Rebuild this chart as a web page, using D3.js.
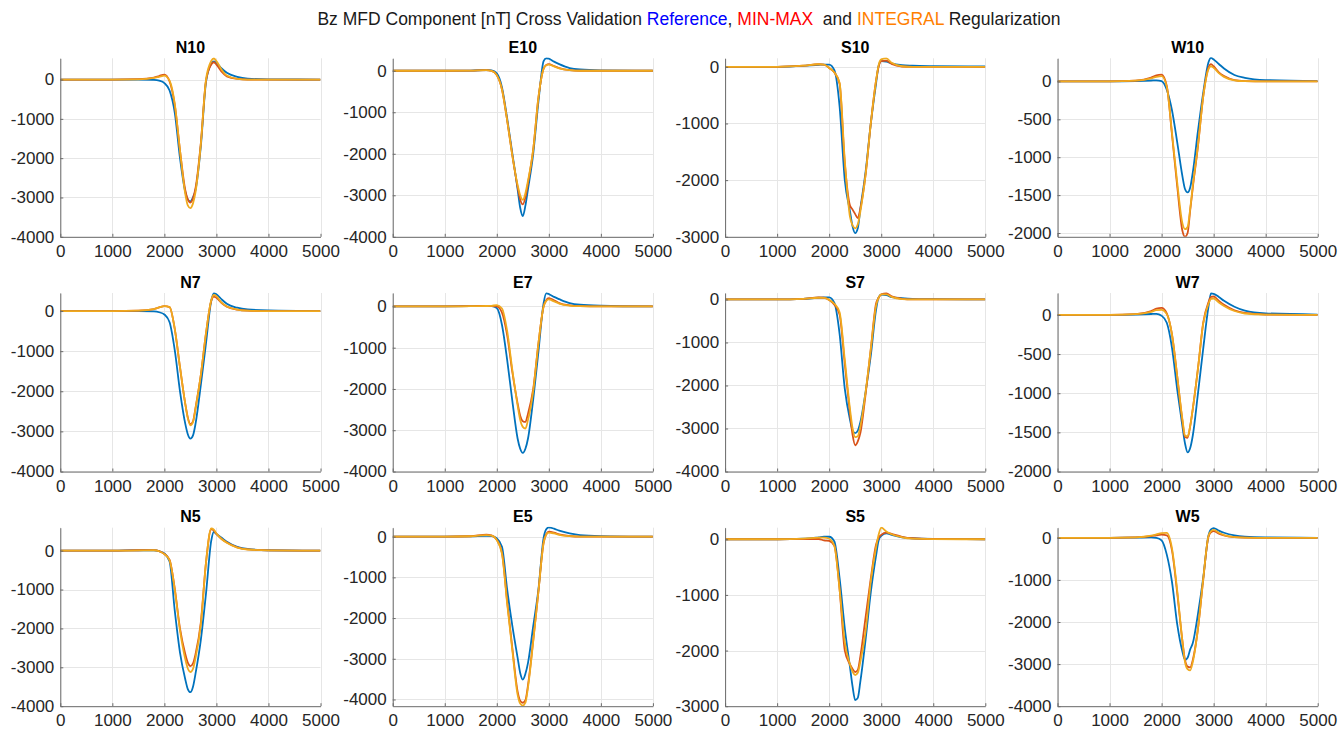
<!DOCTYPE html>
<html>
<head>
<meta charset="utf-8">
<script src="https://cdn.jsdelivr.net/npm/d3@7"></script>
<style>
  html, body { margin: 0; padding: 0; background: #ffffff; }
  svg { display: block; font-family: "Liberation Sans", Arial, Helvetica, sans-serif; }
</style>
</head>
<body>
<svg id="chart" width="1339" height="731"></svg>
<script>
// ---------------- DATA ----------------
const xGrid = [0, 1000, 1500, 1800, 1900, 2000, 2100, 2200, 2300, 2400, 2450, 2500, 2550, 2600, 2700, 2800, 2900, 2950, 3000, 3100, 3200, 3400, 3600, 4000, 5000];
const xTicks = [0, 1000, 2000, 3000, 4000, 5000];
const panelNames = ["N10", "E10", "S10", "W10", "N7", "E7", "S7", "W7", "N5", "E5", "S5", "W5"];
const seriesNames = ["Reference", "MIN-MAX", "INTEGRAL"];
const yLimits = [
  [-4000, 540], [-4000, 300], [-3000, 150], [-2050, 305],
  [-4000, 450], [-4000, 325], [-4000, 150], [-2000, 280],
  [-4000, 590], [-4165, 220], [-3000, 208], [-4000, 240]
];
const yTickStep = [1000, 1000, 1000, 500, 1000, 1000, 1000, 500, 1000, 1000, 1000, 1000];

const refN10 = [0,0,0,-10,-30,-90,-280,-850,-2000,-2850,-3050,-3100,-3000,-2800,-1700,-60,400,460,420,280,170,70,25,5,0];
const minmaxN10 = [0,0,10,50,90,125,-50,-650,-1800,-2800,-3050,-3130,-3020,-2750,-1620,-30,380,440,380,200,80,15,0,0,0];
const integralN10 = [0,0,5,40,70,100,-30,-620,-1800,-2900,-3200,-3270,-3150,-2850,-1650,0,470,535,470,250,100,15,0,0,0];

const refE10 = [0,0,5,20,10,-65,-400,-1150,-2000,-2850,-3300,-3500,-3250,-2850,-2000,-750,230,300,290,220,160,65,30,10,0];
const minmaxE10 = [0,0,5,15,0,-105,-450,-1200,-2050,-2800,-3100,-3220,-3050,-2700,-1900,-650,50,140,160,110,65,15,0,0,0];
const integralE10 = [0,0,5,15,0,-105,-450,-1200,-2050,-2750,-3000,-3110,-2950,-2650,-1900,-650,50,130,150,105,60,15,0,0,0];

const refS10 = [0,0,15,35,40,40,-60,-700,-2000,-2550,-2820,-2935,-2850,-2500,-1850,-1000,-300,20,100,90,60,30,20,12,5];
const minmaxS10 = [0,0,20,45,40,-20,-100,-300,-1700,-2450,-2520,-2600,-2670,-2500,-1900,-1000,-250,0,100,110,50,5,0,0,0];
const integralS10 = [0,0,20,45,40,-20,-100,-280,-1650,-2650,-2800,-2850,-2780,-2550,-1900,-1000,-250,30,130,150,70,10,0,0,0];

const refW10 = [0,0,5,12,15,5,-110,-380,-800,-1250,-1420,-1465,-1400,-1200,-650,-150,250,310,290,230,170,85,48,18,5];
const minmaxW10 = [0,0,10,50,80,90,-60,-700,-1380,-1970,-2050,-2000,-1700,-1400,-850,-200,180,228,200,120,70,18,5,0,0];
const integralW10 = [0,0,10,40,60,70,-70,-680,-1330,-1870,-1950,-1920,-1680,-1380,-840,-200,160,200,180,110,60,15,3,0,0];

const refN7 = [0,0,0,-10,-30,-85,-280,-980,-2000,-2800,-3070,-3180,-3100,-2800,-1850,-800,250,440,420,290,180,83,40,15,0];
const minmaxN7 = [0,0,10,50,90,125,100,-450,-1400,-2300,-2650,-2820,-2750,-2400,-1600,-550,250,360,330,200,110,35,10,0,0];
const integralN7 = [0,0,10,50,90,125,100,-450,-1400,-2300,-2670,-2850,-2770,-2420,-1600,-550,270,400,370,210,115,38,10,0,0];

const refE7 = [0,0,5,15,10,-40,-450,-1300,-2300,-3200,-3450,-3550,-3450,-3200,-2250,-1100,80,315,300,230,175,80,40,16,0];
const minmaxE7 = [0,0,5,15,10,0,-150,-700,-1600,-2350,-2650,-2780,-2800,-2600,-2000,-900,0,150,200,150,80,25,8,0,0];
const integralE7 = [0,0,5,10,15,30,-50,-600,-1550,-2400,-2750,-2920,-2960,-2750,-2050,-900,0,130,170,120,70,20,5,0,0];

const refS7 = [0,0,15,40,50,50,-80,-800,-2080,-2800,-3050,-3110,-3050,-2850,-2150,-1300,-250,50,110,100,55,30,15,8,0];
const minmaxS7 = [0,0,15,45,40,-10,-120,-350,-1500,-2650,-3150,-3390,-3300,-3100,-2200,-1150,-100,40,120,140,70,15,0,0,0];
const integralS7 = [0,0,15,40,35,-10,-100,-300,-1400,-2550,-3000,-3200,-3180,-2950,-2150,-1150,-150,40,120,120,60,10,0,0,0];

const refW7 = [0,0,5,12,14,-10,-100,-420,-950,-1420,-1640,-1755,-1700,-1540,-1000,-430,100,275,270,230,180,105,55,21,5];
const minmaxW7 = [0,0,10,50,80,90,20,-250,-780,-1350,-1560,-1570,-1420,-1200,-680,-100,160,230,235,180,130,60,25,5,0];
const integralW7 = [0,0,10,40,60,65,10,-250,-780,-1330,-1540,-1550,-1420,-1200,-680,-110,140,205,210,160,115,50,18,3,0];

const refN5 = [0,0,10,10,-15,-70,-280,-1550,-2620,-3300,-3560,-3640,-3500,-3150,-2300,-1100,250,480,430,330,230,100,43,10,0];
const minmaxN5 = [0,0,10,15,-10,-85,-240,-980,-2000,-2650,-2880,-2970,-2900,-2650,-1850,-300,550,520,430,300,210,85,34,8,0];
const integralN5 = [0,0,5,10,-15,-90,-250,-1000,-2050,-2780,-3030,-3120,-3040,-2750,-1900,-300,570,540,440,300,200,80,30,8,0];

const refE5 = [0,0,5,20,15,-40,-250,-1300,-2200,-2970,-3350,-3510,-3370,-3100,-2200,-1300,-30,180,229,195,147,82,40,15,0];
const minmaxE5 = [0,0,10,50,30,-80,-400,-1600,-2750,-3800,-4030,-4080,-4020,-3650,-2550,-1350,-150,60,122,100,57,16,0,0,0];
const integralE5 = [0,0,10,40,25,-85,-420,-1650,-2800,-3880,-4100,-4150,-4080,-3700,-2580,-1350,-150,50,100,80,45,12,0,0,0];

const refS5 = [0,0,10,35,45,45,-40,-700,-1600,-2300,-2650,-2890,-2850,-2550,-1800,-950,-300,-20,60,108,80,36,18,6,0];
const minmaxS5 = [0,0,5,5,-20,-30,-120,-900,-2000,-2250,-2330,-2385,-2350,-2100,-1400,-700,-100,30,80,120,95,45,18,5,0];
const integralS5 = [0,0,10,30,30,10,-120,-900,-1850,-2250,-2380,-2440,-2400,-2200,-1650,-750,-150,80,210,140,90,36,12,3,0];

const refW5 = [0,0,5,10,0,-60,-400,-1050,-2050,-2700,-2900,-2850,-2650,-2500,-1800,-950,50,200,230,170,120,55,25,8,0];
const minmaxW5 = [0,0,10,40,60,75,60,-300,-1300,-2450,-2900,-3060,-3080,-2900,-2150,-1000,20,130,160,100,55,15,3,0,0];
const integralW5 = [0,0,10,50,80,110,115,-250,-1250,-2450,-2950,-3120,-3150,-2950,-2150,-980,40,160,190,120,65,18,5,0,0];

const panelSeries = [
  [refN10, minmaxN10, integralN10], [refE10, minmaxE10, integralE10], [refS10, minmaxS10, integralS10], [refW10, minmaxW10, integralW10],
  [refN7, minmaxN7, integralN7], [refE7, minmaxE7, integralE7], [refS7, minmaxS7, integralS7], [refW7, minmaxW7, integralW7],
  [refN5, minmaxN5, integralN5], [refE5, minmaxE5, integralE5], [refS5, minmaxS5, integralS5], [refW5, minmaxW5, integralW5]
];

// ---------------- STYLE / LAYOUT ----------------
const lineColors = ["#0072BD", "#D95319", "#F0AA1E"];
const textColor = "#262626";
const gridColor = "#e6e6e6";
const axisColor = "#6a6a6a";

const layout = { left0: 60.3, colStep: 332.4, plotW: 260.2, top0: 58.3, rowStep: 234.7, plotH: 178.5 };

const svg = d3.select("#chart");
svg.append("rect").attr("width", 1339).attr("height", 731).attr("fill", "#ffffff");

// Title
const title = svg.append("text")
  .attr("x", 689).attr("y", 25)
  .attr("text-anchor", "middle")
  .attr("font-size", 17.5)
  .attr("fill", "#1a1a1a")
  .style("white-space", "pre");
const titleParts = [
  ["Bz MFD Component [nT] Cross Validation ", "#1a1a1a"],
  [seriesNames[0], "#0000FF"],
  [", ", "#1a1a1a"],
  [seriesNames[1], "#FF0000"],
  ["  and ", "#1a1a1a"],
  [seriesNames[2], "#FF8000"],
  [" Regularization", "#1a1a1a"]
];
titleParts.forEach(([t, c]) => title.append("tspan").attr("fill", c).text(t));

panelNames.forEach((name, i) => {
  const col = i % 4, row = Math.floor(i / 4);
  const left = layout.left0 + col * layout.colStep;
  const top = layout.top0 + row * layout.rowStep;
  const w = layout.plotW, h = layout.plotH;

  const x = d3.scaleLinear().domain([0, 5000]).range([left, left + w]);
  const y = d3.scaleLinear().domain(yLimits[i]).range([top + h, top]);

  const step = yTickStep[i];
  const yTicks = d3.range(Math.ceil(yLimits[i][0] / step) * step, yLimits[i][1] + 1, step);

  const g = svg.append("g");

  // grid
  g.append("g").selectAll("line").data(xTicks).join("line")
    .attr("x1", d => Math.round(x(d)) + 0.5).attr("x2", d => Math.round(x(d)) + 0.5)
    .attr("y1", top).attr("y2", top + h)
    .attr("stroke", gridColor).attr("stroke-width", 1);
  g.append("g").selectAll("line").data(yTicks).join("line")
    .attr("x1", left).attr("x2", left + w)
    .attr("y1", d => Math.round(y(d)) + 0.5).attr("y2", d => Math.round(y(d)) + 0.5)
    .attr("stroke", gridColor).attr("stroke-width", 1);

  // clip
  const clipId = "clip" + i;
  svg.append("clipPath").attr("id", clipId).append("rect")
    .attr("x", left).attr("y", top - 1).attr("width", w).attr("height", h + 1);

  const line = d3.line().x(d => x(d[0])).y(d => y(d[1])).curve(d3.curveMonotoneX);
  const lg = g.append("g").attr("clip-path", `url(#${clipId})`);
  panelSeries[i].forEach((vals, s) => {
    const pts = xGrid.map((xv, k) => [xv, vals[k]]);
    lg.append("path").datum(pts)
      .attr("d", line)
      .attr("fill", "none")
      .attr("stroke", lineColors[s])
      .attr("stroke-width", 1.8)
      .attr("stroke-linejoin", "round");
  });

  // axes
  const xAxis = d3.axisBottom(x).tickValues(xTicks).tickFormat(d3.format("d"))
    .tickSizeInner(-3).tickSizeOuter(0).tickPadding(8);
  const yAxis = d3.axisLeft(y).tickValues(yTicks).tickFormat(d => d3.format("d")(d).replace("−", "-"))
    .tickSizeInner(-3).tickSizeOuter(0).tickPadding(6);

  const gx = g.append("g").attr("transform", `translate(0,${top + h})`).call(xAxis);
  const gy = g.append("g").attr("transform", `translate(${left},0)`).call(yAxis);
  [gx, gy].forEach(a => {
    a.select(".domain").attr("stroke", axisColor).attr("stroke-width", 1);
    a.selectAll(".tick line").attr("stroke", axisColor);
    a.selectAll(".tick text").attr("fill", textColor).attr("font-size", 17)
      .attr("font-family", "'Liberation Sans', Arial, Helvetica, sans-serif");
  });

  // panel title
  g.append("text")
    .attr("x", left + w / 2).attr("y", top - 5.5)
    .attr("text-anchor", "middle")
    .attr("font-size", 16).attr("font-weight", "bold")
    .attr("fill", "#000000")
    .text(name);
});
</script>
</body>
</html>
